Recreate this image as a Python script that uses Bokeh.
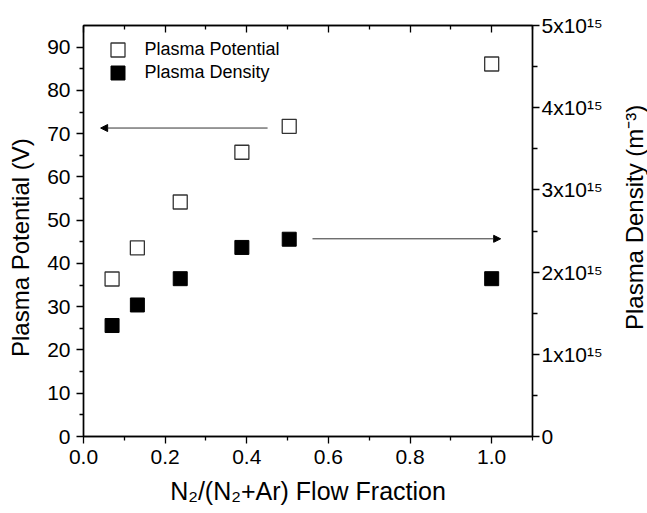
import math
from bokeh.plotting import figure
from bokeh.layouts import row
from bokeh.models import (Range1d, LinearAxis, FixedTicker, PrintfTickFormatter,
                          ColumnDataSource, Arrow, NormalHead, Legend, LegendItem, Label)
from bokeh.embed import file_html
from bokeh.resources import INLINE

# ---------------- data ----------------
flow_fraction = [0.070, 0.132, 0.237, 0.388, 0.504, 1.000]
plasma_potential = [36.4, 43.6, 54.2, 65.7, 71.7, 86.1]                   # V
plasma_density = [1.35e15, 1.60e15, 1.92e15, 2.30e15, 2.40e15, 1.92e15]  # m^-3

series_names = ["Plasma Potential", "Plasma Density"]

x_ticks = [0.0, 0.2, 0.4, 0.6, 0.8, 1.0]
x_minor = [0.1, 0.3, 0.5, 0.7, 0.9, 1.1]
pot_ticks = [0, 10, 20, 30, 40, 50, 60, 70, 80, 90]
pot_minor = [5, 15, 25, 35, 45, 55, 65, 75, 85]
dens_ticks = [0, 1e15, 2e15, 3e15, 4e15, 5e15]
dens_minor = [0.5e15, 1.5e15, 2.5e15, 3.5e15, 4.5e15]
dens_tick_labels = ["0", "1x10\u00b9\u2075", "2x10\u00b9\u2075", "3x10\u00b9\u2075",
                    "4x10\u00b9\u2075", "5x10\u00b9\u2075"]

NBSP = "\u00a0"
x_title = "N\u2082/(N\u2082+Ar) Flow Fraction"
y_title = "Plasma Potential (V)" + NBSP * 5
y2_title = "Plasma Density (m\u207b\u00b3)"

# arrows (start x, end x, level)
arrow_pot = (0.451, 0.042, 71.3)
arrow_den = (0.561, 1.022, 2.405e15)

FONT = "Liberation Sans"
x_max, pot_max, den_max = 1.1, 95, 5e15

W, H = 647, 513
SIDE_W = 37

# ---------------- main figure ----------------
p = figure(width=W - SIDE_W, height=H, x_range=Range1d(0, x_max), y_range=Range1d(0, pot_max),
           output_backend="svg", toolbar_location=None,
           min_border_left=83, min_border_right=78, min_border_top=25, min_border_bottom=77)
p.extra_y_ranges = {"density": Range1d(0, den_max)}
p.grid.visible = False
p.outline_line_color = "black"
p.outline_line_width = 1.3
p.background_fill_color = "white"
p.border_fill_color = "white"


def style_axis(ax, ticks, minor, major_out=7, minor_out=4, major_in=0, minor_in=0):
    ax.ticker = FixedTicker(ticks=ticks, minor_ticks=minor)
    ax.axis_line_color = "black"
    ax.axis_line_width = 1.5
    ax.major_tick_line_color = "black"
    ax.minor_tick_line_color = "black"
    ax.major_tick_line_width = 1.3
    ax.minor_tick_line_width = 1.3
    ax.major_tick_out = major_out
    ax.minor_tick_out = minor_out
    ax.major_tick_in = major_in
    ax.minor_tick_in = minor_in
    ax.major_label_text_font = FONT
    ax.major_label_text_font_size = "21px"
    ax.major_label_text_color = "black"
    ax.axis_label_text_font = FONT
    ax.axis_label_text_font_style = "normal"
    ax.axis_label_text_font_size = "24px"
    ax.axis_label_text_color = "black"


# bottom axis
xa = p.xaxis[0]
style_axis(xa, x_ticks, x_minor)
xa.formatter = PrintfTickFormatter(format="%.1f")
xa.major_label_standoff = 6
xa.axis_label = x_title
xa.axis_label_text_font_size = "25px"
xa.axis_label_standoff = 10

# left axis
ya = p.yaxis[0]
style_axis(ya, pot_ticks, pot_minor)
ya.major_label_standoff = 6
ya.axis_label = y_title
ya.axis_label_standoff = 10

# top axis (mirror, ticks inward, no labels)
top = LinearAxis()
style_axis(top, x_ticks, x_minor, major_out=0, minor_out=0, major_in=7, minor_in=4)
top.major_label_overrides = {t: "" for t in x_ticks}
p.add_layout(top, "above")

# right axis (density)
ra = LinearAxis(y_range_name="density")
style_axis(ra, dens_ticks, dens_minor, major_out=7, minor_out=5)
ra.major_label_overrides = dict(zip(dens_ticks, dens_tick_labels))
ra.major_label_standoff = 2
p.add_layout(ra, "right")

# ---------------- data glyphs ----------------
src = ColumnDataSource(dict(flow=flow_fraction, potential=plasma_potential, density=plasma_density))
r_pot = p.scatter("flow", "potential", source=src, marker="square", size=14,
                  fill_color="white", line_color="#333333", line_width=1.3)
r_den = p.scatter("flow", "density", source=src, marker="square", size=14,
                  fill_color="black", line_color="black", line_width=1, y_range_name="density")

# ---------------- arrows ----------------
for (xs, xe, yl), rng in ((arrow_pot, "default"), (arrow_den, "density")):
    p.add_layout(Arrow(end=NormalHead(size=7, fill_color="black", line_color="black", line_width=1),
                       x_start=xs, x_end=xe, y_start=yl, y_end=yl, y_range_name=rng,
                       line_color="#333333", line_width=1))

# ---------------- legend (one box per entry to get the tight spacing) ----------------
for name, rend, loc in ((series_names[0], r_pot, (16.5, 369.5)),
                        (series_names[1], r_den, (16.5, 346.5))):
    p.add_layout(Legend(items=[LegendItem(label=name, renderers=[rend])],
                        location=loc, glyph_width=35, glyph_height=35,
                        padding=0, margin=0, label_standoff=10,
                        label_text_font=FONT, label_text_font_size="18px",
                        label_text_color="black",
                        border_line_color=None, background_fill_alpha=0))

# ---------------- right-hand title strip (reads bottom to top) ----------------
side = figure(width=SIDE_W, height=H, x_range=Range1d(0, SIDE_W), y_range=Range1d(0, H),
              output_backend="svg", toolbar_location=None,
              x_axis_location=None, y_axis_location=None,
              min_border=0, min_border_left=0, min_border_right=0,
              min_border_top=0, min_border_bottom=0)
side.grid.visible = False
side.outline_line_color = None
side.background_fill_color = "white"
side.border_fill_color = "white"
side.add_layout(Label(x=23.5, y=273.5, text=y2_title, angle=math.pi / 2,
                      text_align="center", text_baseline="middle",
                      text_font=FONT, text_font_size="24px", text_color="black"))

layout = row(p, side, spacing=0)

open("out.html", "w").write(file_html(layout, INLINE))
